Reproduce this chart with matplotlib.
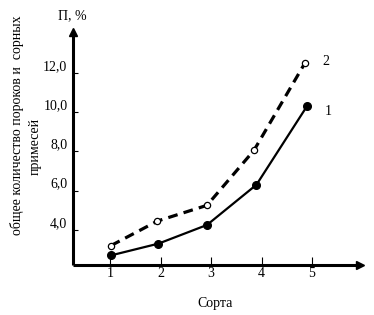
import matplotlib
matplotlib.use("Agg")
import matplotlib.pyplot as plt

plt.rcParams['font.family'] = ['Liberation Serif', 'DejaVu Serif']
plt.rcParams['lines.scale_dashes'] = False

# data
sorts = [1, 2, 3, 4, 5]
x_series1 = [1.02, 1.96, 2.92, 3.90, 4.90]
x_series2 = [1.02, 1.94, 2.92, 3.85, 4.86]
series1 = [2.7, 3.3, 4.25, 6.3, 10.3]
series2 = [3.2, 4.45, 5.25, 8.05, 12.5]
y_ticks = [4.0, 6.0, 8.0, 10.0, 12.0]
y_tick_labels = ["4,0", "6,0", "8,0", "10,0", "12,0"]
series_labels = ["1", "2"]

W, H = 374, 315
fig = plt.figure(figsize=(W / 100, H / 100), dpi=100)
ax = fig.add_axes([73 / W, (H - 265) / H, (360 - 73) / W, (265 - 32) / H])
ax.set_xlim(0.267, 5.95)
ax.set_ylim(2.21, 14.08)
for s in ax.spines.values():
    s.set_visible(False)

# axes with arrows
ax.plot([0, 0.985], [0, 0], transform=ax.transAxes, color='black', lw=2.2,
        clip_on=False, solid_capstyle='butt')
ax.plot([0, 0], [0, 0.985], transform=ax.transAxes, color='black', lw=2.2,
        clip_on=False, solid_capstyle='butt')
ax.plot([1.0], [0], marker='>', ms=6, color='black', transform=ax.transAxes, clip_on=False)
ax.plot([0], [1.0], marker='^', ms=6, color='black', transform=ax.transAxes, clip_on=False)

ax.plot(x_series1, series1, color='black', lw=1.6, marker='o', ms=5.5,
        markerfacecolor='black', zorder=3)
ax.plot(x_series2, series2, color='black', lw=2.3, linestyle=(0, (7, 4.5)),
        marker='o', ms=4.5, markerfacecolor='white', markeredgecolor='black',
        markeredgewidth=0.9, zorder=3)

ax.text(x_series1[-1] + 0.42, series1[-1] - 0.25, series_labels[0], fontsize=10,
        ha='center', va='center')
ax.text(x_series2[-1] + 0.42, series2[-1] + 0.1, series_labels[1], fontsize=10,
        ha='center', va='center')

ax.set_xticks(sorts)
ax.set_xticklabels([str(s) for s in sorts], fontsize=10)
ax.tick_params(axis='x', direction='in', length=5.5, width=0.8, pad=1.5)
ax.set_yticks(y_ticks)
ax.set_yticklabels(y_tick_labels, fontsize=10)
ax.tick_params(axis='y', direction='in', length=3.5, width=0.8, pad=4)
for t in ax.get_yticklabels():
    t.set_va('bottom')

fig.text(215 / W, 1 - 303 / H, "Сорта", fontsize=10, ha='center', va='center')
fig.text(72 / W, 1 - 16 / H, "П, %", fontsize=10, ha='center', va='center')
fig.text(17 / W, 1 - 125 / H, "общее количество пороков и  сорных", fontsize=10,
         rotation=90, ha='center', va='center')
fig.text(35 / W, 1 - 146 / H, "примесей", fontsize=10,
         rotation=90, ha='center', va='center')

fig.savefig("out.png", dpi=100, facecolor='white')
